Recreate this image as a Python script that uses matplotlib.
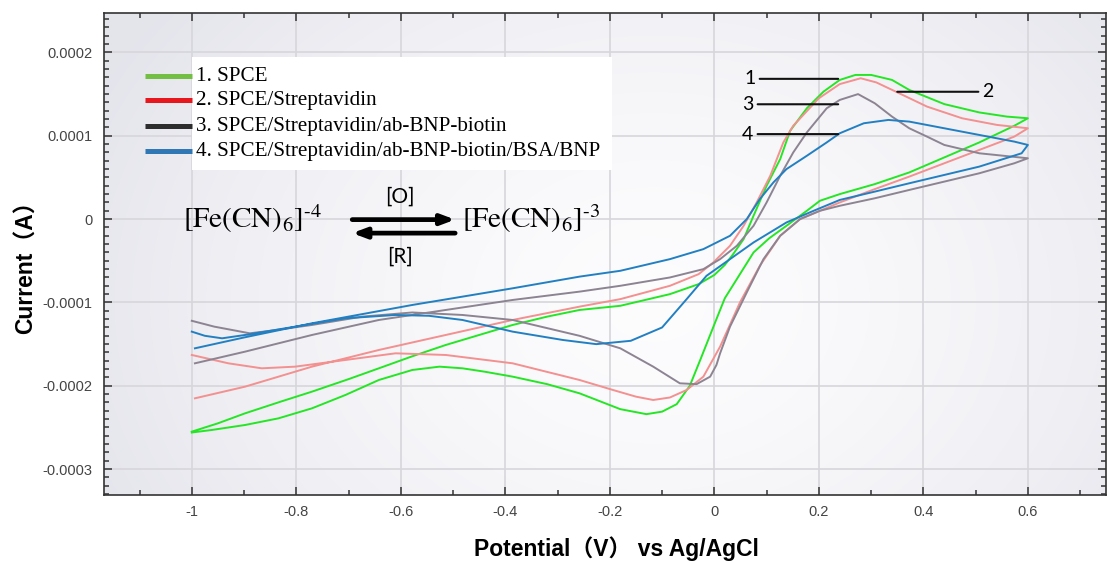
import numpy as np
import matplotlib.pyplot as plt
from matplotlib.lines import Line2D
from matplotlib.patches import Rectangle
from matplotlib.ticker import MultipleLocator, FuncFormatter

plt.rcParams['mathtext.fontset'] = 'stix'

# cyclic voltammograms, potential in V, current in units of 1e-4 A
# 1. SPCE
v1_fwd = [-1.0, -0.95, -0.898, -0.83, -0.77, -0.70, -0.642, -0.58, -0.514, -0.45, -0.386, -0.32,
          -0.258, -0.18, -0.085, -0.03, 0.0, 0.02, 0.036, 0.056, 0.075, 0.1, 0.126, 0.145, 0.177,
          0.209, 0.24, 0.27, 0.30, 0.34, 0.373, 0.44, 0.507, 0.56, 0.60]
i1_fwd = [-2.55, -2.45, -2.33, -2.19, -2.07, -1.92, -1.79, -1.65, -1.51, -1.39, -1.27, -1.17,
          -1.09, -1.04, -0.90, -0.78, -0.67, -0.55, -0.42, -0.24, 0.04, 0.40, 0.72, 1.06, 1.33,
          1.53, 1.67, 1.73, 1.73, 1.67, 1.55, 1.38, 1.28, 1.23, 1.21]
v1_rev = [0.60, 0.574, 0.507, 0.44, 0.373, 0.307, 0.24, 0.202, 0.177, 0.138, 0.105, 0.075, 0.043,
          0.02, 0.004, -0.027, -0.047, -0.072, -0.10, -0.13, -0.18, -0.258, -0.32, -0.386, -0.44,
          -0.482, -0.526, -0.578, -0.642, -0.706, -0.77, -0.834, -0.898, -0.962, -1.0]
i1_rev = [1.21, 1.12, 0.92, 0.74, 0.56, 0.42, 0.30, 0.22, 0.10, -0.08, -0.23, -0.40, -0.72,
          -0.95, -1.20, -1.69, -2.0, -2.22, -2.31, -2.34, -2.28, -2.09, -1.98, -1.89, -1.83,
          -1.79, -1.77, -1.81, -1.93, -2.11, -2.27, -2.39, -2.47, -2.53, -2.56]

# 2. SPCE/Streptavidin
v2_fwd = [-0.994, -0.898, -0.77, -0.642, -0.514, -0.386, -0.258, -0.18, -0.085, -0.03, -0.002,
          0.03, 0.056, 0.081, 0.107, 0.132, 0.151, 0.2, 0.24, 0.28, 0.31, 0.347, 0.407, 0.474,
          0.541, 0.60]
i2_fwd = [-2.15, -2.01, -1.77, -1.57, -1.39, -1.21, -1.05, -0.96, -0.80, -0.66, -0.52,
          -0.32, -0.08, 0.20, 0.52, 0.92, 1.12, 1.45, 1.62, 1.69, 1.64, 1.53, 1.35, 1.21,
          1.13, 1.09]
v2_rev = [0.60, 0.574, 0.507, 0.44, 0.373, 0.307, 0.24, 0.164, 0.126, 0.087, 0.049, 0.011,
          -0.021, -0.053, -0.085, -0.117, -0.15, -0.194, -0.258, -0.386, -0.514, -0.61, -0.706,
          -0.802, -0.866, -0.93, -1.0]
i2_rev = [1.09, 0.99, 0.83, 0.67, 0.51, 0.36, 0.20, 0.0, -0.2, -0.56, -1.0, -1.53,
          -1.89, -2.05, -2.14, -2.17, -2.13, -2.05, -1.93, -1.73, -1.63, -1.61, -1.69,
          -1.77, -1.79, -1.73, -1.63]

# 3. SPCE/Streptavidin/ab-BNP-biotin
v3_fwd = [-0.994, -0.898, -0.77, -0.642, -0.514, -0.386, -0.258, -0.18, -0.085, -0.021, 0.011,
          0.043, 0.075, 0.1, 0.126, 0.151, 0.177, 0.215, 0.24, 0.275, 0.307, 0.34, 0.373, 0.407,
          0.44, 0.507, 0.60]
i3_fwd = [-1.73, -1.59, -1.39, -1.21, -1.09, -0.97, -0.87, -0.80, -0.70, -0.60, -0.48,
          -0.32, -0.08, 0.20, 0.52, 0.80, 1.04, 1.33, 1.43, 1.50, 1.39, 1.23, 1.09, 0.99,
          0.89, 0.79, 0.73]
v3_rev = [0.60, 0.574, 0.507, 0.44, 0.373, 0.307, 0.24, 0.202, 0.164, 0.126, 0.094, 0.062, 0.03,
          0.011, 0.004, -0.008, -0.034, -0.066, -0.117, -0.18, -0.258, -0.386, -0.482, -0.578,
          -0.674, -0.77, -0.85, -0.889, -0.957, -1.0]
i3_rev = [0.73, 0.67, 0.55, 0.45, 0.35, 0.25, 0.16, 0.10, 0.0, -0.20, -0.48, -0.88, -1.29,
          -1.61, -1.75, -1.89, -1.98, -1.97, -1.77, -1.55, -1.40, -1.21, -1.15, -1.12,
          -1.17, -1.27, -1.34, -1.37, -1.29, -1.22]

# 4. SPCE/Streptavidin/ab-BNP-biotin/BSA/BNP
v4_fwd = [-0.994, -0.9, -0.77, -0.578, -0.386, -0.258, -0.18, -0.085, -0.021, 0.03, 0.062, 0.087,
          0.113, 0.138, 0.177, 0.215, 0.24, 0.286, 0.333, 0.373, 0.44, 0.507, 0.574, 0.60]
i4_fwd = [-1.55, -1.42, -1.25, -1.03, -0.83, -0.69, -0.62, -0.48, -0.36, -0.20, 0.0, 0.24,
          0.44, 0.60, 0.76, 0.92, 1.03, 1.15, 1.19, 1.17, 1.09, 1.01, 0.93, 0.89]
v4_rev = [0.60, 0.588, 0.507, 0.44, 0.373, 0.307, 0.24, 0.19, 0.138, 0.075, 0.03, -0.015, -0.053,
          -0.1, -0.16, -0.226, -0.29, -0.386, -0.482, -0.546, -0.61, -0.706, -0.802, -0.898,
          -0.942, -0.975, -1.0]
i4_rev = [0.89, 0.79, 0.63, 0.53, 0.43, 0.33, 0.23, 0.10, -0.04, -0.28, -0.48, -0.68, -0.96,
          -1.30, -1.46, -1.50, -1.45, -1.35, -1.21, -1.16, -1.15, -1.19, -1.29, -1.39,
          -1.43, -1.40, -1.35]

labels = ['1. SPCE', '2. SPCE/Streptavidin', '3. SPCE/Streptavidin/ab-BNP-biotin',
          '4. SPCE/Streptavidin/ab-BNP-biotin/BSA/BNP']
curve_colors = ['#25e625', '#f39090', '#8c8492', '#2280c2']
legend_colors = ['#72bf44', '#e8161d', '#2d2d2d', '#2f78b5']

scans = [(v1_fwd + v1_rev, i1_fwd + i1_rev),
         (v2_fwd + v2_rev, i2_fwd + i2_rev),
         (v3_fwd + v3_rev, i3_fwd + i3_rev),
         (v4_fwd + v4_rev, i4_fwd + i4_rev)]

W, H = 1107, 563
fig = plt.figure(figsize=(W / 100, H / 100), dpi=100)
ax = fig.add_axes([104 / W, 1 - 495 / H, 1002 / W, 482 / H])

# soft grey-to-white backdrop
gx, gy = np.meshgrid(np.linspace(0, 1, 400), np.linspace(0, 1, 200))
r = np.sqrt(((gx - 0.55) / 0.62) ** 2 + ((gy - 0.4) / 1.0) ** 2)
t = np.clip(r, 0, 1) ** 1.6
edge = np.array([0.895, 0.895, 0.925])
centre = np.array([0.99, 0.99, 0.995])
bg = centre * (1 - t[..., None]) + edge * t[..., None]
ax.imshow(bg, extent=[0, 1, 0, 1], transform=ax.transAxes, aspect='auto',
          origin='lower', zorder=0, interpolation='bilinear')

ax.set_xlim(-1.168, 0.7495)
ax.set_ylim(-3.31e-4, 2.473e-4)
ax.grid(True, color='#d6d6db', lw=1.2, zorder=1)

draw_order = [2, 1, 3, 0]
for k in draw_order:
    v, i = scans[k]
    ax.plot(v, np.array(i) * 1e-4, color=curve_colors[k], lw=1.4, zorder=3 + k)

# axes styling
ax.xaxis.set_major_locator(MultipleLocator(0.2))
ax.xaxis.set_minor_locator(MultipleLocator(0.1))
ax.yaxis.set_major_locator(MultipleLocator(1e-4))
ax.yaxis.set_minor_locator(MultipleLocator(1e-5))
ax.xaxis.set_major_formatter(FuncFormatter(lambda x, p: '%g' % round(x, 6)))
ax.yaxis.set_major_formatter(FuncFormatter(lambda y, p: '%g' % round(y, 8)))
ax.tick_params(which='both', direction='in', top=True, right=True, color='#333333', width=1.1)
ax.tick_params(which='major', length=6)
ax.tick_params(which='minor', length=3.5)
ax.tick_params(axis='y', pad=8.5, labelsize=10.5, labelcolor='#444444')
ax.tick_params(axis='x', pad=7, labelsize=10.5, labelcolor='#444444')
for lab in ax.get_xticklabels() + ax.get_yticklabels():
    lab.set_family('Liberation Sans')
for s in ax.spines.values():
    s.set_color('#333333')
    s.set_linewidth(1.2)

lab_font = ['Liberation Sans', 'Noto Sans CJK SC']
ax.set_xlabel('Potential（V） vs Ag/AgCl', family=lab_font, fontsize=16.5, fontweight='bold')
ax.set_ylabel('Current（A）', family=lab_font, fontsize=16.5, fontweight='bold')
ax.xaxis.set_label_coords((616 - 104) / 1002, (495 - 536) / 482)
ax.yaxis.set_label_coords((38 - 104) / 1002, (495 - 262) / 482)

# legend: coloured samples on the plot, text on a white panel
ax.add_patch(Rectangle((192 / W, 1 - 170 / H), 420 / W, 113 / H, transform=fig.transFigure,
                       facecolor='white', edgecolor='none', zorder=8))
rows = [75.5, 100, 125.5, 150.5]
for lab, col, yy in zip(labels, legend_colors, rows):
    fig.add_artist(Line2D([145 / W, 192 / W], [1 - yy / H, 1 - yy / H], color=col, lw=3.6,
                          solid_capstyle='butt', zorder=9))
    fig.text(196 / W, 1 - (yy + 1) / H, lab, family='Liberation Serif', fontsize=15.2,
             va='center', ha='left', zorder=10)

# redox couple
ax.text(-1.017, 0.0, r'$\mathrm{[Fe(CN)_6]^{\text{-4}}}$', fontsize=21, va='center', ha='left',
        zorder=10)
ax.text(-0.482, 0.0, r'$\mathrm{[Fe(CN)_6]^{\text{-3}}}$', fontsize=21, va='center', ha='left',
        zorder=10)
ax.annotate('', xy=(-0.496, -0.006e-4), xytext=(-0.693, -0.006e-4),
            arrowprops=dict(arrowstyle='-|>,head_length=0.8,head_width=0.3', lw=3.4,
                            color='black', shrinkA=0, shrinkB=0, mutation_scale=10))
ax.annotate('', xy=(-0.693, -0.168e-4), xytext=(-0.496, -0.168e-4),
            arrowprops=dict(arrowstyle='-|>,head_length=0.8,head_width=0.3', lw=3.4,
                            color='black', shrinkA=0, shrinkB=0, mutation_scale=10))
ax.text(-0.601, 0.268e-4, '[O]', family='Lato', fontsize=15, ha='center', va='center')
ax.text(-0.601, -0.453e-4, '[R]', family='Lato', fontsize=15, ha='center', va='center')

# curve numbers with horizontal leader lines
tags = [('1', 0.068, 0.237, 1.683e-4),
        ('3', 0.064, 0.237, 1.378e-4),
        ('4', 0.064, 0.237, 1.02e-4),
        ('2', 0.524, 0.35, 1.528e-4)]
for txt, tx, tip, ty in tags:
    ax.annotate(txt, xy=(tip, ty), xytext=(tx, ty), family='Lato', fontsize=14, ha='center',
                va='center', zorder=10,
                arrowprops=dict(arrowstyle='-', lw=1.5, color='#111111', shrinkA=1, shrinkB=0))

fig.savefig('out.png', dpi=100)
